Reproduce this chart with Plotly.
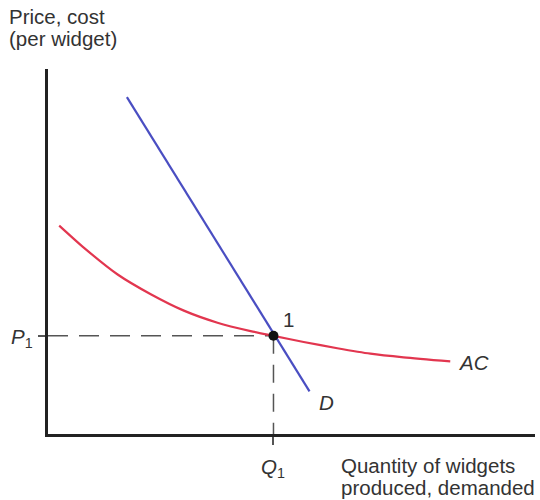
import plotly.graph_objects as go

# Data (quantity 0-100, price 0-100 scale)
demand_q = [16.2, 53.7]
demand_p = [92.3, 11.7]

ac_q = [2.3, 7.4, 14.3, 21.1, 27.9, 34.8, 41.6, 46.3, 52.5, 59.4, 66.2, 73.0, 82.6]
ac_c = [57.1, 51.0, 43.7, 38.3, 33.8, 30.5, 28.2, 26.9, 25.2, 23.5, 22.0, 21.0, 19.9]

Q1 = 46.3
P1 = 26.9

FONT = "Liberation Sans, Arial, Helvetica, sans-serif"
TXT = "#333333"
FS = 20.5

PL, PR, PT, PB = 48, 535, 69, 434  # plot area in window pixels
W, H = 540, 500


def px(sx):
    return (sx - PL) / (PR - PL)


def py(sy):
    return (PB - sy) / (PB - PT)


fig = go.Figure()

# dashed guides
fig.add_trace(go.Scatter(x=[0, Q1], y=[P1, P1], mode="lines",
                         line=dict(color="#555555", width=1.5, dash="20px,11px"),
                         hoverinfo="skip", showlegend=False))
fig.add_trace(go.Scatter(x=[Q1, Q1], y=[P1, 0], mode="lines",
                         line=dict(color="#555555", width=1.5, dash="18px,11px"),
                         hoverinfo="skip", showlegend=False))

# AC curve
fig.add_trace(go.Scatter(x=ac_q, y=ac_c, mode="lines",
                         line=dict(color="#e2364f", width=2.2, shape="spline", smoothing=0.7),
                         showlegend=False))
# Demand
fig.add_trace(go.Scatter(x=demand_q, y=demand_p, mode="lines",
                         line=dict(color="#4a4ec2", width=2.2),
                         showlegend=False))
# equilibrium point
fig.add_trace(go.Scatter(x=[Q1], y=[P1], mode="markers",
                         marker=dict(color="#111111", size=10),
                         cliponaxis=False, showlegend=False))

ann = []


def txt(text, **kw):
    d = dict(text=text, showarrow=False, font=dict(family=FONT, size=FS, color=TXT))
    d.update(kw)
    ann.append(d)


# axis titles
txt("Price, cost", xref="paper", yref="paper", x=px(7), y=py(17),
    xanchor="left", yanchor="middle")
txt("(per widget)", xref="paper", yref="paper", x=px(7), y=py(39),
    xanchor="left", yanchor="middle")
txt("Quantity of widgets", xref="paper", yref="paper", x=px(339), y=py(465),
    xanchor="left", yanchor="middle")
txt("produced, demanded", xref="paper", yref="paper", x=px(339), y=py(487),
    xanchor="left", yanchor="middle")

# P1 / Q1
txt("<i>P</i><sub>1</sub>", xref="paper", yref="y", x=px(22), y=P1,
    xanchor="center", yanchor="middle", yshift=-2)
txt("<i>Q</i><sub>1</sub>", xref="x", yref="paper", x=Q1, y=py(468),
    xanchor="center", yanchor="middle")

# point label and curve labels
txt("1", xref="x", yref="y", x=Q1, y=P1, xshift=15, yshift=16,
    xanchor="center", yanchor="middle")
txt("<i>D</i>", xref="x", yref="y", x=demand_q[-1], y=demand_p[-1], xshift=17, yshift=-11,
    xanchor="center", yanchor="middle")
txt("<i>AC</i>", xref="x", yref="y", x=ac_q[-1], y=ac_c[-1], xshift=6, yshift=-1.5,
    xanchor="left", yanchor="middle")

fig.update_layout(
    width=W, height=H,
    margin=dict(l=PL, r=W - PR, t=PT, b=H - PB),
    paper_bgcolor="white", plot_bgcolor="white",
    annotations=ann,
    xaxis=dict(range=[0, 100], showgrid=False, zeroline=False, showline=True,
               linecolor="#222222", linewidth=2.5, tickvals=[Q1],
               ticks="outside", ticklen=8, tickwidth=1.5, tickcolor="#555555",
               showticklabels=False, fixedrange=True),
    yaxis=dict(range=[0, 100], showgrid=False, zeroline=False, showline=True,
               linecolor="#222222", linewidth=2.5, tickvals=[P1],
               ticks="outside", ticklen=7, tickwidth=1.5, tickcolor="#555555",
               showticklabels=False, fixedrange=True),
)

fig.write_html("out.html", config={"displayModeBar": False},
               post_script="document.body.style.margin='0';document.body.style.overflow='hidden';")
